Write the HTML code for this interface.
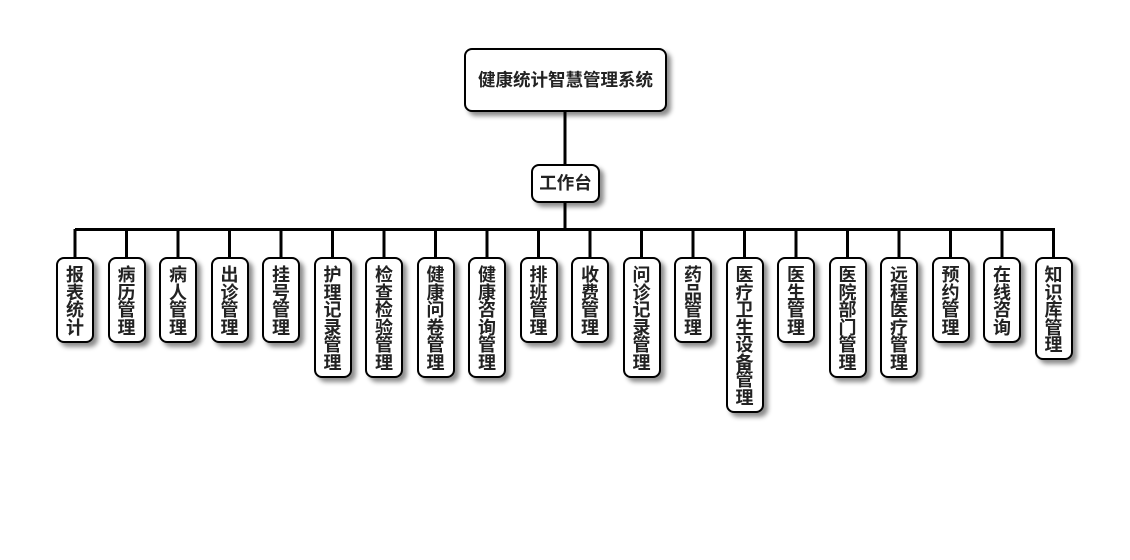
<!DOCTYPE html>
<html><head><meta charset="utf-8"><style>
html,body{margin:0;padding:0;background:#fff;}
body{width:1130px;height:560px;position:relative;overflow:hidden;font-family:"Liberation Sans","Noto Sans CJK SC",sans-serif;font-weight:bold;color:#222;}
.box{position:absolute;box-sizing:border-box;border:2px solid #000;background:#fff;border-radius:8px;box-shadow:4px 4px 5px rgba(0,0,0,0.45);text-align:center;}
.c{width:38px;top:257px;font-size:18px;line-height:17.5px;padding-top:8px;}
svg{position:absolute;left:0;top:0;}
</style></head><body>
<svg width="1130" height="560">
<g stroke="#000" stroke-width="3" fill="none">
<line x1="565" y1="112" x2="565" y2="164"/>
<line x1="565" y1="202" x2="565" y2="230"/>
<line x1="75" y1="229.5" x2="1055" y2="229.5"/>
<line x1="75" y1="229" x2="75" y2="258"/>
<line x1="126.5" y1="229" x2="126.5" y2="258"/>
<line x1="178" y1="229" x2="178" y2="258"/>
<line x1="229.5" y1="229" x2="229.5" y2="258"/>
<line x1="281" y1="229" x2="281" y2="258"/>
<line x1="332.5" y1="229" x2="332.5" y2="258"/>
<line x1="384" y1="229" x2="384" y2="258"/>
<line x1="435.5" y1="229" x2="435.5" y2="258"/>
<line x1="487" y1="229" x2="487" y2="258"/>
<line x1="538.5" y1="229" x2="538.5" y2="258"/>
<line x1="590" y1="229" x2="590" y2="258"/>
<line x1="641.5" y1="229" x2="641.5" y2="258"/>
<line x1="693" y1="229" x2="693" y2="258"/>
<line x1="744.5" y1="229" x2="744.5" y2="258"/>
<line x1="796" y1="229" x2="796" y2="258"/>
<line x1="847.5" y1="229" x2="847.5" y2="258"/>
<line x1="899" y1="229" x2="899" y2="258"/>
<line x1="950.5" y1="229" x2="950.5" y2="258"/>
<line x1="1002" y1="229" x2="1002" y2="258"/>
<line x1="1053.5" y1="229" x2="1053.5" y2="258"/>
</g>
</svg>
<div class="box" style="left:464px;top:48px;width:203px;height:64px;line-height:60px;font-size:17.5px;">健康统计智慧管理系统</div>
<div class="box" style="left:531px;top:164px;width:69px;height:39px;line-height:35px;font-size:17.5px;">工作台</div>

<div class="box c" style="left:56px;height:86px;">报<br>表<br>统<br>计</div>
<div class="box c" style="left:107.5px;height:86px;">病<br>历<br>管<br>理</div>
<div class="box c" style="left:159px;height:86px;">病<br>人<br>管<br>理</div>
<div class="box c" style="left:210.5px;height:86px;">出<br>诊<br>管<br>理</div>
<div class="box c" style="left:262px;height:86px;">挂<br>号<br>管<br>理</div>
<div class="box c" style="left:313.5px;height:121px;">护<br>理<br>记<br>录<br>管<br>理</div>
<div class="box c" style="left:365px;height:121px;">检<br>查<br>检<br>验<br>管<br>理</div>
<div class="box c" style="left:416.5px;height:121px;">健<br>康<br>问<br>卷<br>管<br>理</div>
<div class="box c" style="left:468px;height:121px;">健<br>康<br>咨<br>询<br>管<br>理</div>
<div class="box c" style="left:519.5px;height:86px;">排<br>班<br>管<br>理</div>
<div class="box c" style="left:571px;height:86px;">收<br>费<br>管<br>理</div>
<div class="box c" style="left:622.5px;height:121px;">问<br>诊<br>记<br>录<br>管<br>理</div>
<div class="box c" style="left:674px;height:86px;">药<br>品<br>管<br>理</div>
<div class="box c" style="left:725.5px;height:156px;">医<br>疗<br>卫<br>生<br>设<br>备<br>管<br>理</div>
<div class="box c" style="left:777px;height:86px;">医<br>生<br>管<br>理</div>
<div class="box c" style="left:828.5px;height:121px;">医<br>院<br>部<br>门<br>管<br>理</div>
<div class="box c" style="left:880px;height:121px;">远<br>程<br>医<br>疗<br>管<br>理</div>
<div class="box c" style="left:931.5px;height:86px;">预<br>约<br>管<br>理</div>
<div class="box c" style="left:983px;height:86px;">在<br>线<br>咨<br>询</div>
<div class="box c" style="left:1034.5px;height:103px;">知<br>识<br>库<br>管<br>理</div>
</body></html>
